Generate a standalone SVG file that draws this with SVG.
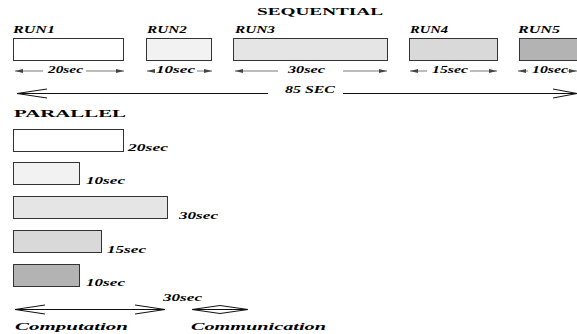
<svg xmlns="http://www.w3.org/2000/svg" width="577" height="334" viewBox="0 0 577 334">
<style>
.t{font-family:"Liberation Serif","Times New Roman",serif;font-weight:bold;fill:#000}
.i{font-style:italic;font-size:10px}
.h{font-size:10.5px}
.lb{font-style:italic;font-size:10.5px}
.box{stroke:#333;stroke-width:1}
.sl{stroke:#555;stroke-width:0.8;fill:none}
.bl{stroke:#111;stroke-width:1;fill:none}
</style>
<defs>
<marker id="ah" viewBox="0 0 8 4" refX="8" refY="2" markerWidth="8" markerHeight="4" markerUnits="userSpaceOnUse" orient="auto-start-reverse">
<path d="M0,0 L8,2 L0,4 Z" fill="#444"/>
</marker>
</defs>
<rect width="577" height="334" fill="#fff"/>
<text class="t h" x="257" y="15" textLength="126" lengthAdjust="spacingAndGlyphs">SEQUENTIAL</text>
<g id="run1">
<text class="t i" x="13" y="33" textLength="42" lengthAdjust="spacingAndGlyphs">RUN1</text>
<rect class="box" x="13.5" y="38.5" width="110" height="22" fill="#fff"/>
<text class="t i" x="48" y="73" textLength="35" lengthAdjust="spacingAndGlyphs">20sec</text>
</g>
<g id="run2">
<text class="t i" x="147" y="33" textLength="40" lengthAdjust="spacingAndGlyphs">RUN2</text>
<rect class="box" x="146.5" y="38.5" width="65" height="22" fill="#f2f2f2"/>
<text class="t i" x="156" y="73" textLength="39" lengthAdjust="spacingAndGlyphs">10sec</text>
</g>
<g id="run3">
<text class="t i" x="235" y="33" textLength="40" lengthAdjust="spacingAndGlyphs">RUN3</text>
<rect class="box" x="233.5" y="38.5" width="154" height="22" fill="#e5e5e5"/>
<text class="t i" x="288" y="73" textLength="37" lengthAdjust="spacingAndGlyphs">30sec</text>
</g>
<g id="run4">
<text class="t i" x="410" y="33" textLength="38" lengthAdjust="spacingAndGlyphs">RUN4</text>
<rect class="box" x="409.5" y="38.5" width="88" height="22" fill="#d9d9d9"/>
<text class="t i" x="432" y="73" textLength="36" lengthAdjust="spacingAndGlyphs">15sec</text>
</g>
<g id="run5">
<text class="t i" x="518" y="33" textLength="42" lengthAdjust="spacingAndGlyphs">RUN5</text>
<rect class="box" x="519.5" y="38.5" width="70" height="22" fill="#b3b3b3"/>
<text class="t i" x="532" y="73" textLength="36" lengthAdjust="spacingAndGlyphs">10sec</text>
</g>
<g id="total">
<text class="t i" x="285" y="93" textLength="50" lengthAdjust="spacingAndGlyphs">85 SEC</text>
</g>
<text class="t h" x="14" y="117" textLength="112" lengthAdjust="spacingAndGlyphs">PARALLEL</text>
<g id="p1">
<rect class="box" x="13.5" y="129.5" width="110" height="22" fill="#fff"/>
<text class="t lb" x="128" y="151" textLength="40" lengthAdjust="spacingAndGlyphs">20sec</text>
</g>
<g id="p2">
<rect class="box" x="13.5" y="162.5" width="66" height="22" fill="#f2f2f2"/>
<text class="t lb" x="86" y="184" textLength="39" lengthAdjust="spacingAndGlyphs">10sec</text>
</g>
<g id="p3">
<rect class="box" x="13.5" y="196.5" width="154" height="22" fill="#e5e5e5"/>
<text class="t lb" x="179" y="219" textLength="39" lengthAdjust="spacingAndGlyphs">30sec</text>
</g>
<g id="p4">
<rect class="box" x="13.5" y="230.5" width="88" height="22" fill="#d9d9d9"/>
<text class="t lb" x="107" y="253" textLength="39" lengthAdjust="spacingAndGlyphs">15sec</text>
</g>
<g id="p5">
<rect class="box" x="13.5" y="264.5" width="66" height="22" fill="#b3b3b3"/>
<text class="t lb" x="86" y="286" textLength="39" lengthAdjust="spacingAndGlyphs">10sec</text>
</g>
<g id="ptotal">
<text class="t lb" x="163" y="301" textLength="39" lengthAdjust="spacingAndGlyphs">30sec</text>
</g>
<g id="legend-computation">
<text class="t lb" x="15" y="330" textLength="113" lengthAdjust="spacingAndGlyphs">Computation</text>
</g>
<g id="legend-communication">
<text class="t lb" x="191" y="330" textLength="135" lengthAdjust="spacingAndGlyphs">Communication</text>
</g>
<g id="connectors">
<line class="sl" x1="43" y1="71" x2="15" y2="71" marker-end="url(#ah)"/>
<line class="sl" x1="86" y1="71" x2="124" y2="71" marker-end="url(#ah)"/>
<line class="sl" x1="155" y1="71" x2="147" y2="71" marker-end="url(#ah)"/>
<line class="sl" x1="197" y1="71" x2="212" y2="71" marker-end="url(#ah)"/>
<line class="sl" x1="278" y1="71" x2="235" y2="71" marker-end="url(#ah)"/>
<line class="sl" x1="343" y1="71" x2="387" y2="71" marker-end="url(#ah)"/>
<line class="sl" x1="427" y1="71" x2="410" y2="71" marker-end="url(#ah)"/>
<line class="sl" x1="470" y1="71" x2="497" y2="71" marker-end="url(#ah)"/>
<line class="sl" x1="528" y1="71" x2="518" y2="71" marker-end="url(#ah)"/>
<line class="sl" x1="567" y1="71" x2="577" y2="71" marker-end="url(#ah)"/>
<line class="bl" x1="17" y1="93.5" x2="268" y2="93.5"/>
<line class="bl" x1="343" y1="93.5" x2="577" y2="93.5"/>
<polyline class="bl" points="47,89 17,93.5 47,98"/>
<polyline class="bl" points="553,89 577,93.5 553,98"/>
<line class="bl" x1="15" y1="309.5" x2="165" y2="309.5"/>
<polyline class="bl" points="45,305 15,309.5 45,314"/>
<polyline class="bl" points="135,305 165,309.5 135,314"/>
<polygon class="bl" points="192,309.5 220,305.5 248,309.5 220,313.5"/>
<line class="bl" x1="192" y1="309.5" x2="248" y2="309.5"/>
</g>
</svg>
